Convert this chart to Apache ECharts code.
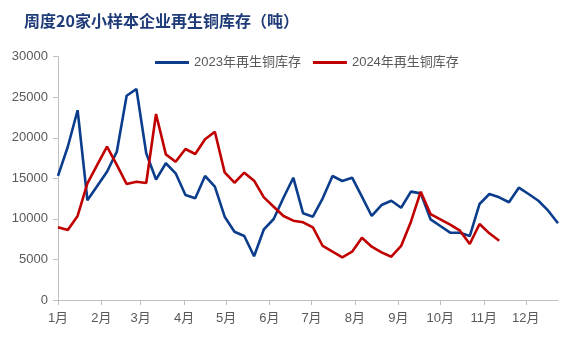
<!DOCTYPE html>
<html>
<head>
<meta charset="utf-8">
<script src="https://cdn.jsdelivr.net/npm/echarts@6/dist/echarts.min.js"></script>
<style>html,body{margin:0;padding:0;background:#fff}#c{width:571px;height:346px}</style>
</head>
<body>
<div id="c"></div>
<script>
// Weekly inventory (tonnes), one value per week starting Jan 1
var series2023 = [15300,18900,23400,12300,14060,15820,18290,25190,26020,18090,
  14850,16860,15620,12950,12540,15290,13970,10270,8420,7890,
  5400,8720,9990,12610,15080,10690,10270,12540,15290,14670,
  15080,12740,10360,11710,12240,11380,13360,13150,9950,9120,
  8300,8300,7890,11840,13070,12660,12050,13850,13070,12240,
  11010,9460];
var series2024 = [8960,8630,10360,14390,16650,18900,16650,14300,14590,14430,
  22930,17960,17050,18620,18000,19810,20750,15740,14460,15700,
  14710,12660,11500,10360,9780,9580,8960,6660,5960,5270,
  5960,7680,6570,5880,5340,6660,9660,13360,10600,9950,
  9300,8550,6900,9370,8220,7310];
var monthLabels = ['1月','2月','3月','4月','5月','6月','7月','8月','9月','10月','11月','12月'];
var monthStartDays = [0,31,59,90,120,151,181,212,243,273,304,334];
var yTicks = [0,5000,10000,15000,20000,25000,30000];
var seriesNames = ['2023年再生铜库存','2024年再生铜库存'];
var titleText = '周度20家小样本企业再生铜库存（吨）';

function toPairs(arr){ return arr.map(function(v,i){ return [i*7, v]; }); }

var font = 'Liberation Sans, "Noto Sans CJK SC", sans-serif';
var chart = echarts.init(document.getElementById('c'), null, {renderer:'canvas'});
chart.setOption({
  animation:false,
  backgroundColor:'#fff',
  title:{text:titleText,left:19,top:8,textStyle:{fontSize:16,fontWeight:'bold',color:'#1F3B78',fontFamily:'"Noto Sans CJK SC", sans-serif'}},
  legend:{
    top:51,left:150,itemGap:12,itemWidth:34,itemHeight:3,icon:'rect',
    textStyle:{fontSize:13,color:'#595959',fontFamily:font},
    data:seriesNames
  },
  grid:{left:58,right:13,top:56.7,bottom:46,containLabel:false},
  xAxis:{
    type:'value',min:0,max:357,
    axisLine:{show:true,lineStyle:{color:'#BFBFBF',width:1}},
    axisTick:{show:true,length:5,lineStyle:{color:'#BFBFBF'},customValues:monthStartDays},
    axisLabel:{customValues:monthStartDays,margin:12,fontSize:13,color:'#595959',fontFamily:font,
      formatter:function(v){ var k=monthStartDays.indexOf(v); return k>=0?monthLabels[k]:''; }},
    splitLine:{show:false}
  },
  yAxis:{
    type:'value',min:yTicks[0],max:yTicks[yTicks.length-1],interval:5000,
    axisLine:{show:true,lineStyle:{color:'#BFBFBF',width:1}},
    axisTick:{show:true,length:5,lineStyle:{color:'#BFBFBF'}},
    axisLabel:{margin:10,fontSize:13,color:'#595959',fontFamily:font,
      formatter:function(v){ return String(v); }},
    splitLine:{show:false}
  },
  series:[
    {name:seriesNames[0],type:'line',data:toPairs(series2023),symbol:'none',
     itemStyle:{color:'#0B3D8C'},lineStyle:{color:'#0B3D8C',width:2.6}},
    {name:seriesNames[1],type:'line',data:toPairs(series2024),symbol:'none',
     itemStyle:{color:'#C00000'},lineStyle:{color:'#C00000',width:2.6}}
  ]
});
</script>
</body>
</html>
